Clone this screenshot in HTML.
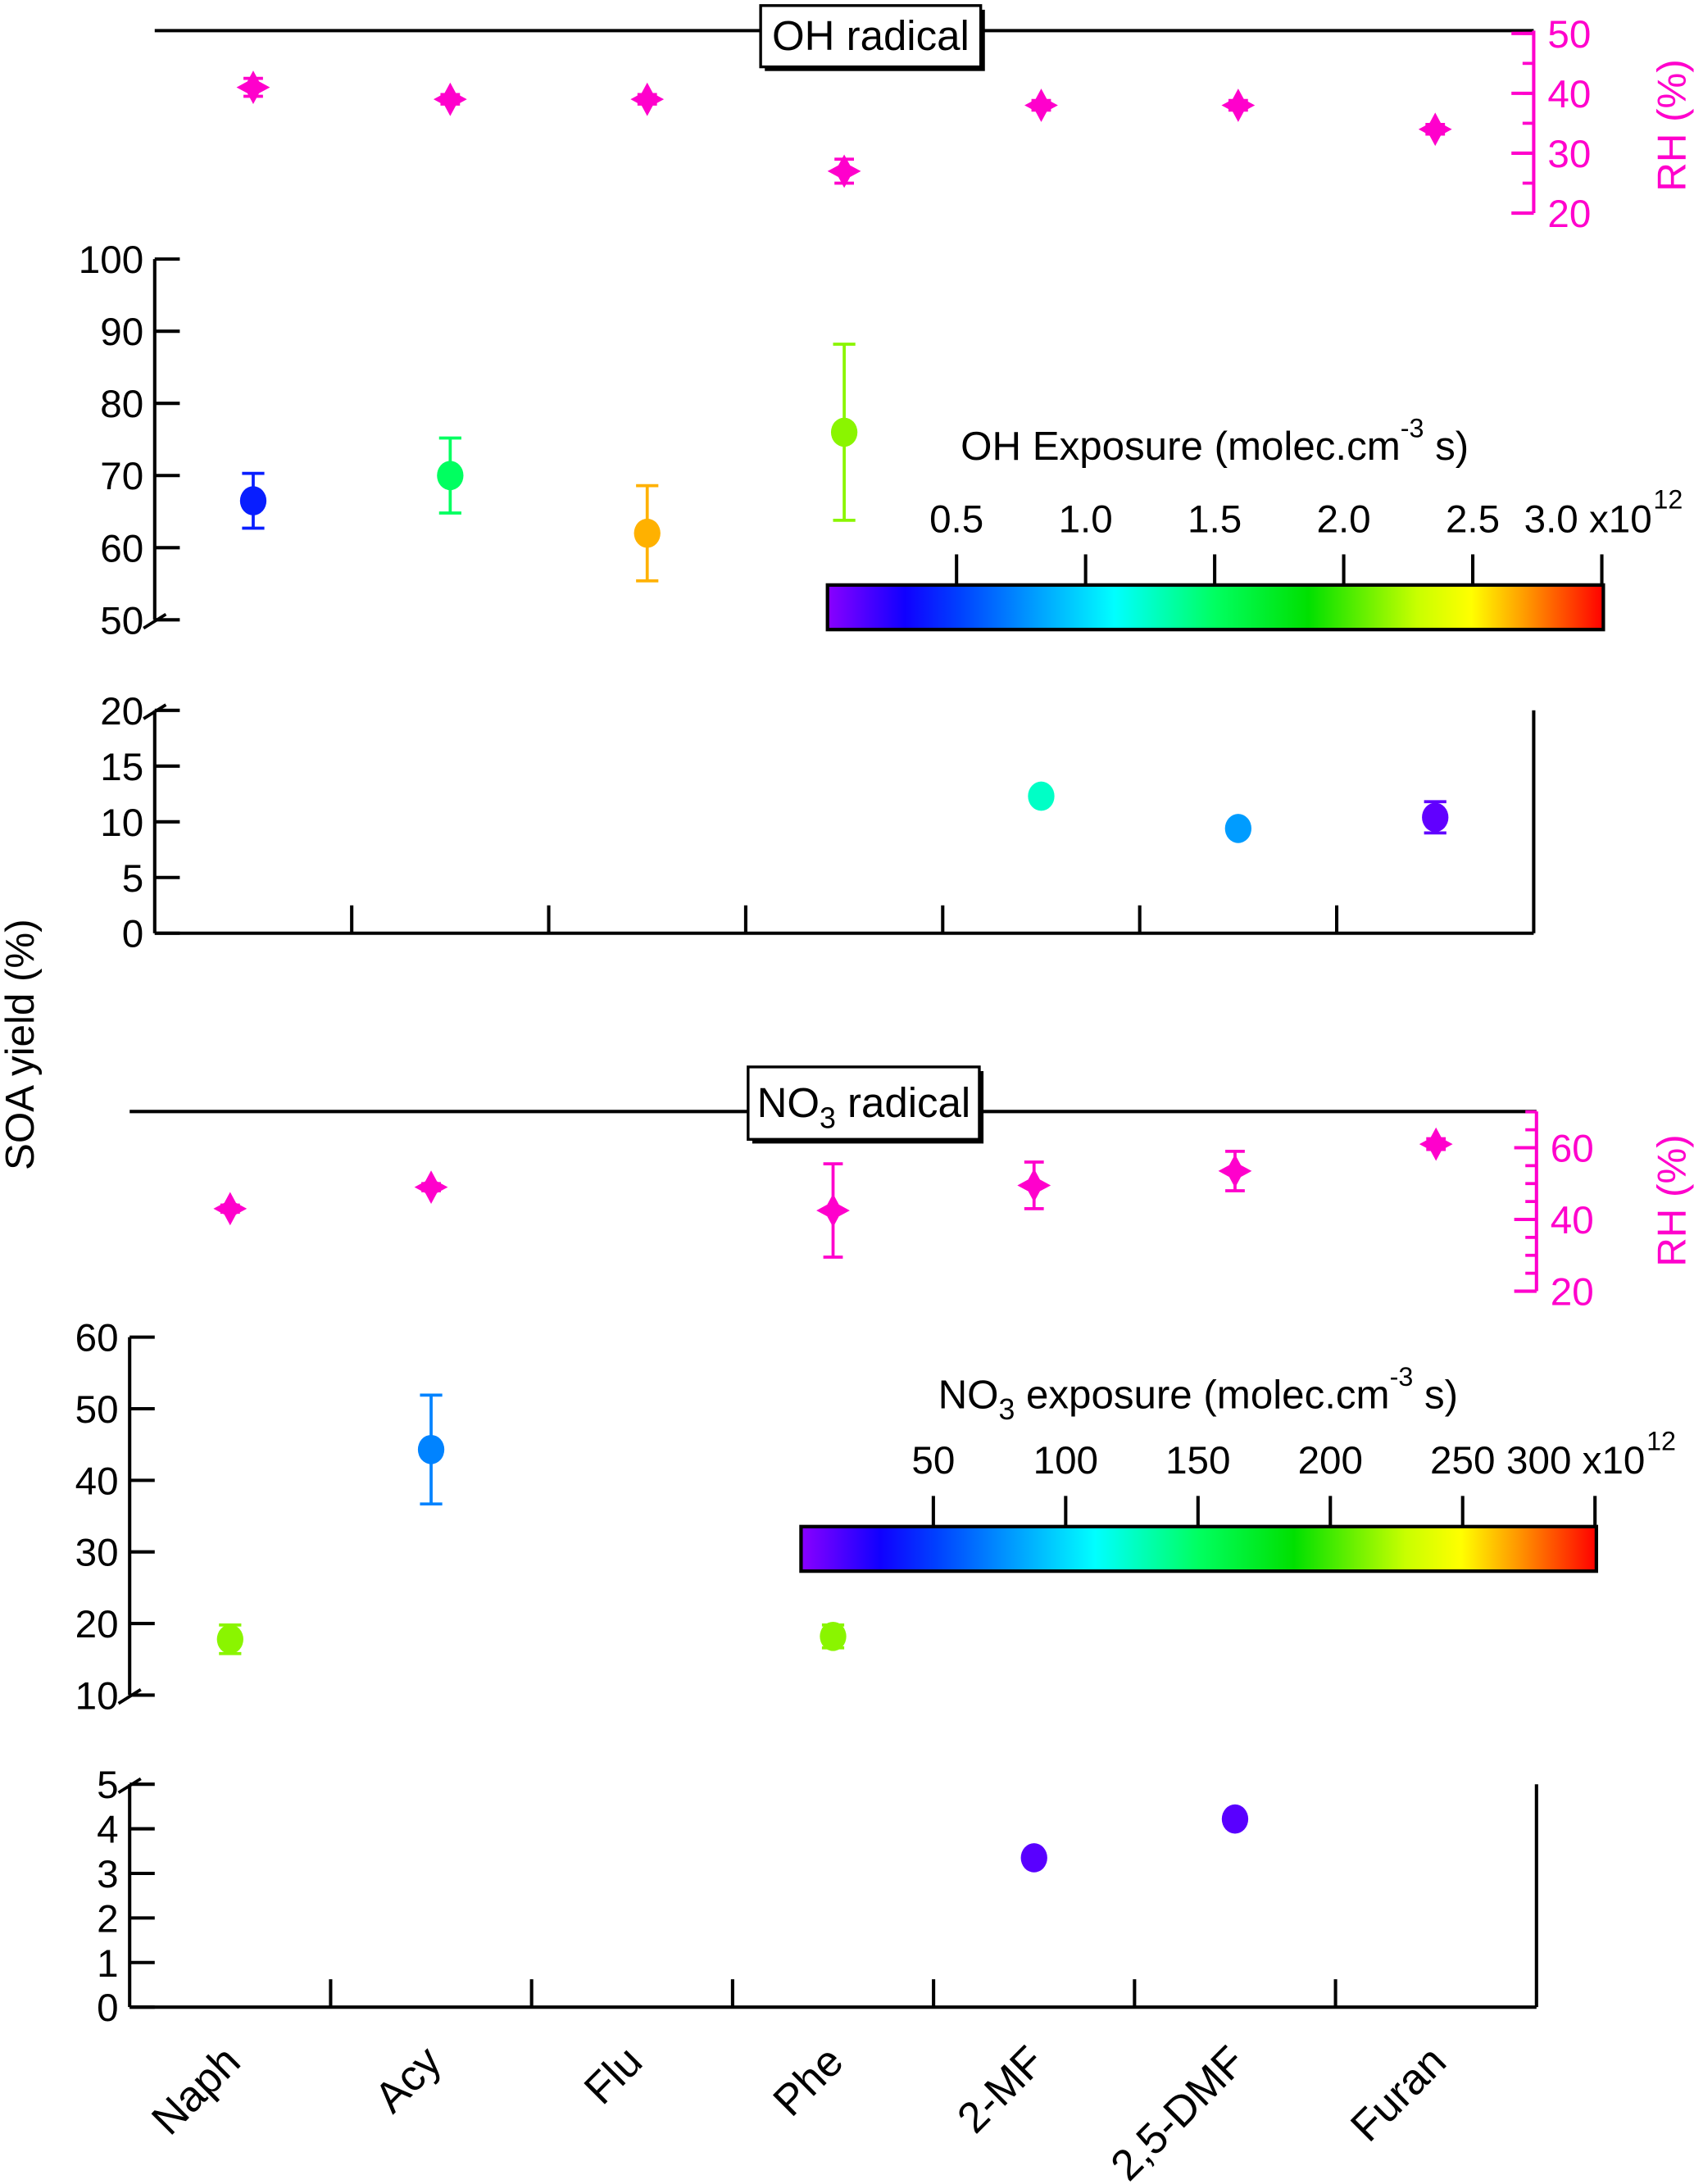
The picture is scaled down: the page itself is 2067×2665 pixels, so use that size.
<!DOCTYPE html>
<html><head><meta charset="utf-8"><style>
html,body{margin:0;padding:0;background:#fff;}
svg{display:block;font-family:"Liberation Sans",Arial,sans-serif;}
</style></head><body>
<svg id="chart" width="2067" height="2665" viewBox="0 0 1216 1568" xmlns="http://www.w3.org/2000/svg">
<defs>
<linearGradient id="rainbow" x1="0" x2="1" y1="0" y2="0">
<stop offset="0" stop-color="#8a00ff"/><stop offset="0.1" stop-color="#1000ff"/><stop offset="0.17" stop-color="#0040ff"/><stop offset="0.37" stop-color="#00ffff"/><stop offset="0.5" stop-color="#00ff60"/><stop offset="0.62" stop-color="#00e000"/><stop offset="0.76" stop-color="#c8ff00"/><stop offset="0.83" stop-color="#ffff00"/><stop offset="0.9" stop-color="#ff9900"/><stop offset="1" stop-color="#ff0000"/>
</linearGradient>
</defs>
<g id="layer"></g>
</svg>
<script>
const categories=["Naph","Acy","Flu","Phe","2-MF","2,5-DMF","Furan"];
const ohRH=[41,39,39,27,38,38,34];
const ohRHerr=[1.5,0.8,0.8,2,0.8,0.8,0.8];
const ohYield=[66.5,70,62,76,12.3,9.4,10.4];
const ohYieldErr=[3.8,5.2,6.6,12.2,0.3,0.3,1.4];
const ohExposure=[0.4,1.5,2.65,2.15,1.25,0.8,0.1];
const ohCbTicks=[0.5,1.0,1.5,2.0,2.5,3.0];
const ohCbLabels=["0.5","1.0","1.5","2.0","2.5","3.0"];
const noRH=[43,49,null,42.5,49.5,53.5,61];
const noRHerr=[1,1,null,13,6.5,5.5,1.5];
const noYield=[17.8,44.3,null,18.2,3.35,4.22,null];
const noYieldErr=[2,7.6,null,1.6,0.05,0.1,null];
const noExposure=[215,72,null,215,12,12,null];
const noCbTicks=[50,100,150,200,250,300];
const ohUpperTicks=[50,60,70,80,90,100];
const ohLowerTicks=[0,5,10,15,20];
const noUpperTicks=[10,20,30,40,50,60];
const noLowerTicks=[0,1,2,3,4,5];

const NS="http://www.w3.org/2000/svg";
const L=document.getElementById('layer');
function mk(tag,attrs,parent){const e=document.createElementNS(NS,tag);for(const k in attrs)e.setAttribute(k,attrs[k]);(parent||L).appendChild(e);return e;}
function line(x1,y1,x2,y2,c,w){return mk('line',{x1,y1,x2,y2,stroke:c||'#000','stroke-width':w||2.4});}
function text(x,y,s,size,anchor,fill,extra){const t=mk('text',Object.assign({x,y,'font-size':size,'text-anchor':anchor||'middle',fill:fill||'#000'},extra||{}));t.textContent=s;return t;}
const stops=[[0,[138,0,255]],[0.1,[16,0,255]],[0.17,[0,64,255]],[0.37,[0,255,255]],[0.5,[0,255,96]],[0.62,[0,224,0]],[0.76,[200,255,0]],[0.83,[255,255,0]],[0.9,[255,153,0]],[1,[255,0,0]]];
function cmap(f){f=Math.max(0,Math.min(1,f));for(let i=1;i<stops.length;i++){if(f<=stops[i][0]){const a=stops[i-1],b=stops[i];const t=(f-a[0])/(b[0]-a[0]);const c=a[1].map((v,j)=>Math.round(v+(b[1][j]-v)*t));return `rgb(${c})`;}}return 'rgb(255,0,0)';}
function star(cx,cy,r,fill){const s=r*0.35;return mk('path',{d:`M${cx},${cy-r} L${cx+s},${cy-s} L${cx+r},${cy} L${cx+s},${cy+s} L${cx},${cy+r} L${cx-s},${cy+s} L${cx-r},${cy} L${cx-s},${cy-s} Z`,fill});}
function errbar(cx,y1,y2,c,w){line(cx,y1,cx,y2,c,2.2);line(cx-w,y1,cx+w,y1,c,2.2);line(cx-w,y2,cx+w,y2,c,2.2);}
function brk(x,y){line(x-8,y+6,x+8,y-4,'#000',2.2);}

function section(o){
  const cw=(o.x1-o.x0)/categories.length;
  const cx=i=>o.x0+cw*(i+0.5);
  line(o.x0,o.topY,o.x1,o.topY);
  mk('rect',{x:o.box[0]+3,y:o.box[1]+3,width:o.box[2],height:o.box[3],fill:'#000'});
  const tb=mk('rect',{x:o.box[0],y:o.box[1],width:o.box[2],height:o.box[3],fill:'#fff',stroke:'#000','stroke-width':2});
  
  
  const tt=text(o.box[0]+o.box[2]/2,o.box[1]+o.box[3]/2+10,'',30,'middle');
  tt.innerHTML=o.title;
  
  
  const rhY=v=>o.rh.y0-(v-o.rh.v0)*o.rh.k;
  const pink='#ff00cc';
  line(o.x1,o.topY,o.x1,rhY(o.rh.v0),pink,2.4);
  for(let v=o.rh.v0;v<=o.rh.vmax+0.01;v+=o.rh.minor){line(o.x1-8,rhY(v),o.x1,rhY(v),pink,2.2);}
  o.rh.labels.forEach(v=>{line(o.x1-16,rhY(v),o.x1,rhY(v),pink,2.4);const t=text(o.x1+10,rhY(v)+10,String(v),28,'start',pink);});
  const rt=text(0,0,'RH (%)',29,'middle',pink,{transform:`translate(${1210},${o.rh.titleY}) rotate(-90)`});
  
  
  o.rhVals.forEach((v,i)=>{if(v==null)return;const e=o.rhErr[i];errbar(cx(i),rhY(v-e),rhY(v+e),pink,7);const s=star(cx(i),rhY(v),12,pink);});
  const U=o.up,uy=v=>U.y0-(v-U.v0)*U.k;
  line(o.x0,uy(U.vmax),o.x0,uy(U.v0));
  U.ticks.forEach(v=>{line(o.x0,uy(v),o.x0+18,uy(v));const t=text(o.x0-8,uy(v)+10,String(v),28,'end');});
  brk(o.x0,uy(U.v0));
  const D=o.lo,dy=v=>D.y0-(v-D.v0)*D.k;
  line(o.x0,dy(D.vmax),o.x0,dy(D.v0));
  line(o.x0,dy(D.v0),o.x1,dy(D.v0));
  line(o.x1,dy(D.vmax),o.x1,dy(D.v0));
  D.ticks.forEach(v=>{line(o.x0,dy(v),o.x0+18,dy(v));const t=text(o.x0-8,dy(v)+10,String(v),28,'end');});
  brk(o.x0,dy(D.vmax));
  for(let i=1;i<categories.length;i++){line(o.x0+cw*i,dy(D.v0),o.x0+cw*i,dy(D.v0)-20);}
  o.yVals.forEach((v,i)=>{if(v==null)return;const col=cmap(o.exp[i]/o.cb.vmax);const e=o.yErr[i];const up=v>=U.v0;const f=up?uy:dy;
    errbar(cx(i),f(v-e),f(v+e),col,8);
    const c=mk('ellipse',{cx:cx(i),cy:f(v),rx:9.5,ry:10.5,fill:col});
    
    });
  const C=o.cb,bx=v=>C.x0+v*C.k;
  const r=mk('rect',{x:C.x0,y:C.y,width:C.w,height:32,fill:'url(#rainbow)',stroke:'#000','stroke-width':2.5});
  
  
  const n=C.ticks.length;
  C.ticks.forEach((v,i)=>{line(bx(v),C.y-22,bx(v),C.y);
    if(i<n-1){const t=text(bx(v),C.y-38,C.labels[i],28,'middle');}
    else{const t=text(bx(v)+36,C.y-38,'',28,'end');t.innerHTML=C.labels[i]+' x10';
      text(bx(v)+37,C.y-55,'12',19,'start');}
  });
  const ct=text(C.titleX,C.y-C.titleDy,'',29,'middle');
  ct.innerHTML=C.title;
  
  
  return {cx};
}
section({key:'oh',x0:111,x1:1101,topY:22,box:[546,4,158,44],title:'OH radical',
  rh:{v0:20,vmax:50,y0:153,k:4.3,minor:5,labels:[20,30,40,50],titleY:90},
  rhVals:ohRH,rhErr:ohRHerr,
  up:{v0:50,vmax:100,y0:445,k:5.18,ticks:ohUpperTicks},
  lo:{v0:0,vmax:20,y0:670,k:8,ticks:ohLowerTicks},
  yVals:ohYield,yErr:ohYieldErr,exp:ohExposure,
  cb:{x0:594,k:185.3,w:557,y:420,vmax:3.0,ticks:ohCbTicks,labels:ohCbLabels,titleX:872,titleDy:90,
    title:'OH Exposure (molec.cm<tspan dy="-16" font-size="19">-3</tspan><tspan dy="16"> s)</tspan>'}});
const sec2=section({key:'no3',x0:93,x1:1103,topY:798,box:[537,766,166,52],title:'NO<tspan dy="8" font-size="21">3</tspan><tspan dy="-8"> radical</tspan>',
  rh:{v0:20,vmax:70,y0:927,k:2.575,minor:5,labels:[20,40,60],titleY:862},
  rhVals:noRH,rhErr:noRHerr,
  up:{v0:10,vmax:60,y0:1217,k:5.14,ticks:noUpperTicks},
  lo:{v0:0,vmax:5,y0:1441,k:32,ticks:noLowerTicks},
  yVals:noYield,yErr:noYieldErr,exp:noExposure,
  cb:{x0:575,k:1.9,w:571,y:1096,vmax:300,ticks:noCbTicks,labels:noCbTicks.map(String),titleX:860,titleDy:85,
    title:'NO<tspan dy="8" font-size="21">3</tspan><tspan dy="-8"> exposure (molec.cm</tspan><tspan dy="-16" font-size="19">-3</tspan><tspan dy="16"> s)</tspan>'}});
categories.forEach((c,i)=>{const x=sec2.cx(i)+9,y=1482;
  const t=text(0,0,c,31,'end','#000',{transform:`translate(${x},${y}) rotate(-45)`});
  
  });
const yt=text(0,0,'SOA yield (%)',29,'middle','#000',{transform:'translate(24,750) rotate(-90)'});


</script>
</body></html>
